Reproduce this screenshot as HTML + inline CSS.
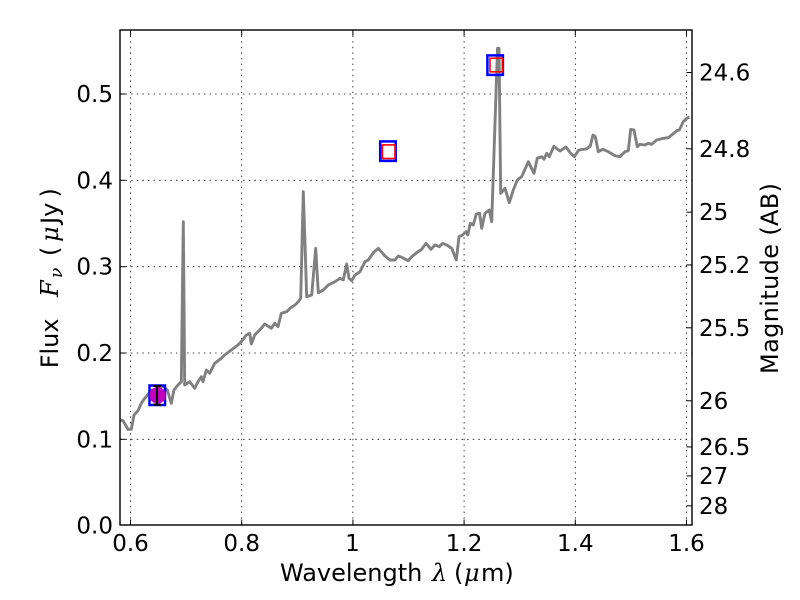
<!DOCTYPE html>
<html><head><meta charset="utf-8"><style>
html,body{margin:0;padding:0;background:#fff;}
svg{display:block;}
text{font-family:"DejaVu Sans","Liberation Sans",sans-serif;fill:#000;}
.m{font-family:"DejaVu Serif","Liberation Serif",serif;font-style:italic;}
</style></head><body>
<svg width="800" height="600" viewBox="0 0 800 600" xmlns="http://www.w3.org/2000/svg">
<defs><clipPath id="c"><rect x="120" y="30" width="572" height="495"/></clipPath></defs>
<rect width="800" height="600" fill="#fff"/>
<!-- grid -->
<g stroke="#000" stroke-width="0.8" stroke-dasharray="1.4 4.2" fill="none">
<line x1="130.5" y1="30" x2="130.5" y2="525"/>
<line x1="241.7" y1="30" x2="241.7" y2="525"/>
<line x1="352.9" y1="30" x2="352.9" y2="525"/>
<line x1="464.1" y1="30" x2="464.1" y2="525"/>
<line x1="575.3" y1="30" x2="575.3" y2="525"/>
<line x1="686.5" y1="30" x2="686.5" y2="525"/>
<line x1="120" y1="439.3" x2="692" y2="439.3"/>
<line x1="120" y1="353" x2="692" y2="353"/>
<line x1="120" y1="266.7" x2="692" y2="266.7"/>
<line x1="120" y1="180.3" x2="692" y2="180.3"/>
<line x1="120" y1="94" x2="692" y2="94"/>
</g>
<!-- spectrum -->
<polyline clip-path="url(#c)" fill="none" stroke="#808080" stroke-width="2.9" stroke-linejoin="round" points="
118,420 120,420 123,420.7 128,429.3 131.3,429.3 134,415 138,410.7 141.3,403.3 144.7,398.3 146.3,396.7 149,393 152,390 158,389 163,386 167.3,390 171.3,403.3 174,390 178,385 181.3,381.7 183.3,221.7 184.7,385 189.7,381.7 194.7,388.3 198,381.7 201.3,376.7 203,381.7 206.3,370 209.7,373.3 214.7,363.3 221.3,358.3 224.7,355 231.3,350 238,345 241.3,341.7 246.3,335 249.7,333.3 251.3,344 254.7,335 261.3,328.3 264.7,324 271.3,328.3 274.7,323.3 278,326.7 281.3,313.3 286.7,311.7 290,308.3 295,305 298.3,301.7 300.7,298.3 303.3,191.7 306.7,296.7 311.7,295 315.7,248.3 318.3,292.7 323.3,290 328.3,285 335,281.7 340,278.3 343.3,280 346.7,264 349,278.3 351.7,280.7 355,275 360,271.7 365,261.7 368.3,260 373.3,252.7 378.3,248.3 385,256 390,260 395,260 398.3,256 401.7,257.3 408.3,260.7 411.7,256.7 416.7,252.7 421.7,249.3 426,243.3 431,249.3 435,245 439.3,246.7 442.7,243.3 446.7,245 451.7,248.3 456.3,260 459,236.7 462.5,235 466,231.7 467.8,235 470.3,223.3 473.3,225 476.3,214 479.6,213.3 481.7,228.3 485,213.3 489.3,210 491.7,221.7 497.5,48.3 499,48.3 500.7,193.3 505,188.3 509.3,202.7 513.3,190 517.3,180 521.7,176.7 528.3,161.7 534,173.3 537.3,158.3 541.7,156.7 544,159.3 546.7,153.3 549.3,156.7 553.8,146.3 560,151 566,147 570,152.5 574.3,156.7 578.8,150 586.7,148.8 590.3,146 593,135 595.3,136.7 598.3,151.7 602.7,149.3 608.3,151.7 615,155.7 620,156.7 625,151.7 628.3,150.7 630.7,129.3 634,130 637.3,146.7 640,144.3 645,145 648.3,143.3 651.7,144.3 656.7,140 663.3,138.3 668.3,137.7 671.7,135 676.7,130.7 679.3,130 683.3,121.7 686.7,118.3 689.5,117"/>
<!-- markers -->
<g fill="none" stroke="#0000ff" stroke-width="2.5">
<rect x="149.5" y="385.5" width="15.5" height="19.5"/>
<rect x="380.2" y="141.4" width="15.5" height="19.5"/>
<rect x="487.4" y="55.4" width="15.5" height="19.5"/>
</g>
<g fill="none" stroke="#ff0000" stroke-width="1.6">
<rect x="382.4" y="144.9" width="12.6" height="13.6"/>
<rect x="490" y="58.2" width="12.6" height="13.6"/>
</g>
<circle cx="157.5" cy="395.3" r="8.3" fill="#bf00bf"/>
<g stroke="#000" stroke-width="2">
<line x1="157" y1="386" x2="157" y2="404.7"/>
<line x1="153" y1="386" x2="161" y2="386"/>
<line x1="153" y1="404.7" x2="161" y2="404.7"/>
</g>
<!-- spines -->
<rect x="120" y="30" width="572" height="495" fill="none" stroke="#000" stroke-width="1.4"/>
<!-- ticks -->
<g stroke="#000" stroke-width="1">
<line x1="120" y1="439.3" x2="125.5" y2="439.3"/>
<line x1="120" y1="353" x2="125.5" y2="353"/>
<line x1="120" y1="266.7" x2="125.5" y2="266.7"/>
<line x1="120" y1="180.3" x2="125.5" y2="180.3"/>
<line x1="120" y1="94" x2="125.5" y2="94"/>
<line x1="130.5" y1="525" x2="130.5" y2="519.5"/><line x1="130.5" y1="30" x2="130.5" y2="35.5"/>
<line x1="241.7" y1="525" x2="241.7" y2="519.5"/><line x1="241.7" y1="30" x2="241.7" y2="35.5"/>
<line x1="352.9" y1="525" x2="352.9" y2="519.5"/><line x1="352.9" y1="30" x2="352.9" y2="35.5"/>
<line x1="464.1" y1="525" x2="464.1" y2="519.5"/><line x1="464.1" y1="30" x2="464.1" y2="35.5"/>
<line x1="575.3" y1="525" x2="575.3" y2="519.5"/><line x1="575.3" y1="30" x2="575.3" y2="35.5"/>
<line x1="686.5" y1="525" x2="686.5" y2="519.5"/><line x1="686.5" y1="30" x2="686.5" y2="35.5"/>
<line x1="692" y1="72.5" x2="686.5" y2="72.5"/>
<line x1="692" y1="148.8" x2="686.5" y2="148.8"/>
<line x1="692" y1="212.2" x2="686.5" y2="212.2"/>
<line x1="692" y1="264.9" x2="686.5" y2="264.9"/>
<line x1="692" y1="327.8" x2="686.5" y2="327.8"/>
<line x1="692" y1="400.8" x2="686.5" y2="400.8"/>
<line x1="692" y1="446.9" x2="686.5" y2="446.9"/>
<line x1="692" y1="475.9" x2="686.5" y2="475.9"/>
<line x1="692" y1="505.8" x2="686.5" y2="505.8"/>
</g>
<!-- left tick labels -->
<g font-size="23">
<g text-anchor="end">
<text x="113" y="533.5">0.0</text>
<text x="113" y="447.3">0.1</text>
<text x="113" y="361">0.2</text>
<text x="113" y="274.7">0.3</text>
<text x="113" y="188.3">0.4</text>
<text x="113" y="102">0.5</text>
</g>
<!-- bottom -->
<g text-anchor="middle">
<text x="130.5" y="551">0.6</text>
<text x="241.7" y="551">0.8</text>
<text x="352.4" y="551">1</text>
<text x="464.1" y="551">1.2</text>
<text x="575.3" y="551">1.4</text>
<text x="686.5" y="551">1.6</text>
</g>
<!-- right -->
<text x="699" y="80.5">24.6</text>
<text x="699" y="156.8">24.8</text>
<text x="699" y="220.2">25</text>
<text x="699" y="272.9">25.2</text>
<text x="699" y="335.8">25.5</text>
<text x="699" y="408.8">26</text>
<text x="699" y="454.9">26.5</text>
<text x="699" y="483.9">27</text>
<text x="699" y="513.8">28</text>
</g>
<!-- x label -->
<g font-size="24">
<text x="280" y="581">Wavelength</text>
<text class="m" x="432" y="581">λ</text>
<text x="454" y="581">(</text>
<text class="m" x="464" y="581">μ</text>
<text x="481" y="581">m)</text>
</g>
<!-- y label -->
<g font-size="24" transform="translate(58,0) rotate(-90)">
<text x="-368.3" y="0">Flux</text>
<text class="m" x="-297" y="0">F</text>
<text class="m" x="-278" y="4" font-size="17">ν</text>
<text x="-256" y="0">(</text>
<text class="m" x="-242" y="0">μ</text>
<text x="-224" y="0">Jy</text>
<text x="-197.5" y="0">)</text>
</g>
<!-- right label -->
<g font-size="24" transform="translate(778,0) rotate(-90)">
<text x="-374" y="0" textLength="191" lengthAdjust="spacing">Magnitude (AB)</text>
</g>
</svg>
</body></html>
